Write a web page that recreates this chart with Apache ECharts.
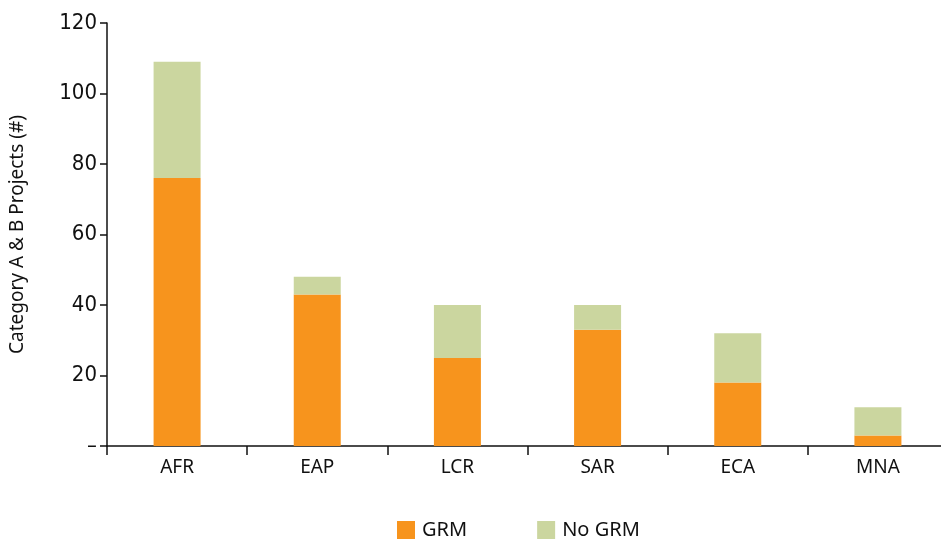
<!DOCTYPE html>
<html>
<head>
<meta charset="utf-8">
<script src="https://cdn.jsdelivr.net/npm/echarts@6/dist/echarts.min.js"></script>
<style>
  html, body { margin: 0; padding: 0; background: #fff; }
  #chart { width: 941px; height: 539px; }
</style>
</head>
<body>
<div id="chart"></div>
<script>
// Regions and project counts (Category A & B projects)
const regions = ['AFR', 'EAP', 'LCR', 'SAR', 'ECA', 'MNA'];
const grmCounts = [76, 43, 25, 33, 18, 3];
const noGrmCounts = [33, 5, 15, 7, 14, 8];
const yTicks = [0, 20, 40, 60, 80, 100, 120];

const textFont = "'Noto Sans', 'Open Sans', sans-serif";

const chart = echarts.init(document.getElementById('chart'));
chart.setOption({
  animation: false,
  backgroundColor: '#ffffff',
  grid: { left: 107, width: 841, top: 23, bottom: 93, containLabel: false, outerBoundsMode: 'none' },
  legend: {
    left: 397,
    top: 520,
    padding: 0,
    itemWidth: 18,
    itemHeight: 18,
    itemGap: 70,
    icon: 'rect',
    textStyle: { fontFamily: textFont, fontSize: 20, color: '#111', padding: [0, 0, 0, 2] },
    data: ['GRM', 'No GRM']
  },
  xAxis: {
    type: 'category',
    data: regions,
    axisLine: { lineStyle: { color: '#111', width: 1.5 } },
    axisTick: { show: true, length: 9, lineStyle: { color: '#111', width: 1.5 } },
    axisLabel: { fontFamily: textFont, fontSize: 19, color: '#111', margin: 12 }
  },
  yAxis: {
    type: 'value',
    min: 0,
    max: 120,
    interval: 20,
    name: 'Category A & B Projects (#)',
    nameLocation: 'middle',
    nameGap: 80,
    nameTextStyle: { fontFamily: textFont, fontSize: 19, color: '#111' },
    splitLine: { show: false },
    axisLine: { show: true, lineStyle: { color: '#111', width: 1.5 } },
    axisTick: { show: true, length: 7, lineStyle: { color: '#111', width: 1.5 } },
    axisLabel: {
      fontFamily: "'DejaVu Sans Condensed', 'Liberation Sans Narrow', 'Noto Sans', sans-serif",
      fontSize: 22,
      color: '#111',
      margin: 10,
      formatter: v => (yTicks.includes(v) ? (v === 0 ? '–' : String(v)) : '')
    }
  },
  series: [
    {
      name: 'GRM',
      type: 'bar',
      stack: 'total',
      barWidth: 47,
      itemStyle: { color: '#F7941D' },
      data: grmCounts
    },
    {
      name: 'No GRM',
      type: 'bar',
      stack: 'total',
      barWidth: 47,
      itemStyle: { color: '#CBD69F' },
      data: noGrmCounts
    }
  ]
});
</script>
</body>
</html>
